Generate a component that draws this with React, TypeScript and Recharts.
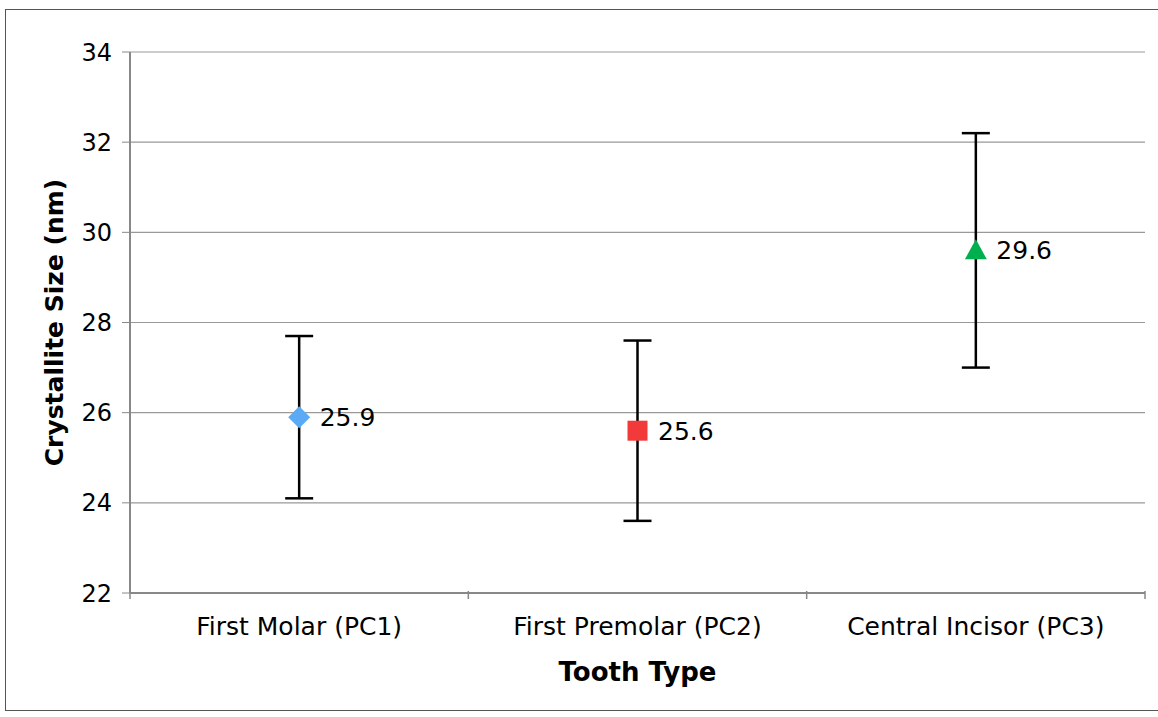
import React from "react";
import { ComposedChart, Scatter, XAxis, YAxis, CartesianGrid, ErrorBar, LabelList } from "recharts";

const categories = ["First Molar (PC1)", "First Premolar (PC2)", "Central Incisor (PC3)"];
const values = [25.9, 25.6, 29.6];
const errors = [1.8, 2.0, 2.6];
const colors = ["#5aaaf5", "#f23a3a", "#00b04f"];
const shapes = ["diamond", "square", "triangle"];
const yTicks = [22, 24, 26, 28, 30, 32, 34];
const xTicks = [0, 0.5, 1, 1.5, 2, 2.5, 3];

const data = categories.map((name, i) => ({ name, x: i + 0.5, value: values[i], err: [errors[i], errors[i]], color: colors[i], kind: shapes[i] }));

const FONT = "Verdana, 'DejaVu Sans', sans-serif";

const Marker = (p: any) => {
  const { cx, cy, payload } = p;
  const c = payload.color;
  if (payload.kind === "diamond") return <polygon points={`${cx},${cy - 11} ${cx + 11},${cy} ${cx},${cy + 11} ${cx - 11},${cy}`} fill={c} />;
  if (payload.kind === "square") return <rect x={cx - 10} y={cy - 10} width={20} height={20} fill={c} />;
  return <polygon points={`${cx},${cy - 11} ${cx + 11},${cy + 9} ${cx - 11},${cy + 9}`} fill={c} />;
};

const XTick = (p: any) => {
  const { x, y, payload } = p;
  const v = payload.value;
  if (Number.isInteger(v)) return <line x1={x} x2={x} y1={y - 10} y2={y - 2} stroke="#888" strokeWidth={1.5} />;
  return <text x={x} y={y + 34} textAnchor="middle" fontSize={25} fontFamily={FONT} fill="#000">{categories[Math.floor(v)]}</text>;
};

export default function App() {
  return (
    <div style={{ position: "absolute", left: 0, top: 0, width: 1158, height: 717, background: "#fff" }}>
      <div style={{ position: "absolute", left: 5, top: 9, width: 1160, height: 700, border: "1px solid #555" }} />
      <ComposedChart width={1158} height={717} data={data} margin={{ top: 52, right: 13, left: 0, bottom: 0 }}>
        <CartesianGrid vertical={false} stroke="#999" strokeWidth={1.2} />
        <XAxis dataKey="x" type="number" domain={[0, 3]} ticks={xTicks} interval={0} height={124} axisLine={{ stroke: "#888", strokeWidth: 2 }} tickLine={false} tick={<XTick />}
          label={{ value: "Tooth Type", position: "insideBottom", offset: 36, fontSize: 26, fontWeight: "bold", fontFamily: FONT, fill: "#000" }} />
        <YAxis domain={[22, 34]} ticks={yTicks} width={130} interval={0} axisLine={{ stroke: "#888", strokeWidth: 2 }} tickLine={{ stroke: "#888" }} tickSize={8} tickMargin={10}
          tick={{ fontSize: 24, fontFamily: FONT, fill: "#000" }}
          label={{ value: "Crystallite Size (nm)", angle: -90, position: "insideLeft", offset: 54, style: { textAnchor: "middle" }, fontSize: 25, fontWeight: "bold", fontFamily: FONT, fill: "#000" }} />
        <YAxis yAxisId="r" orientation="right" domain={[22, 34]} width={0} tick={false} tickLine={false} axisLine={{ stroke: "#888", strokeWidth: 2 }} />
        <Scatter dataKey="value" shape={<Marker />} isAnimationActive={false}>
          <ErrorBar dataKey="err" width={14} stroke="#000" strokeWidth={2.5} direction="y" />
          <LabelList dataKey="value" position="right" offset={16} fontSize={25} fontFamily={FONT} fill="#000" />
        </Scatter>
      </ComposedChart>
    </div>
  );
}
